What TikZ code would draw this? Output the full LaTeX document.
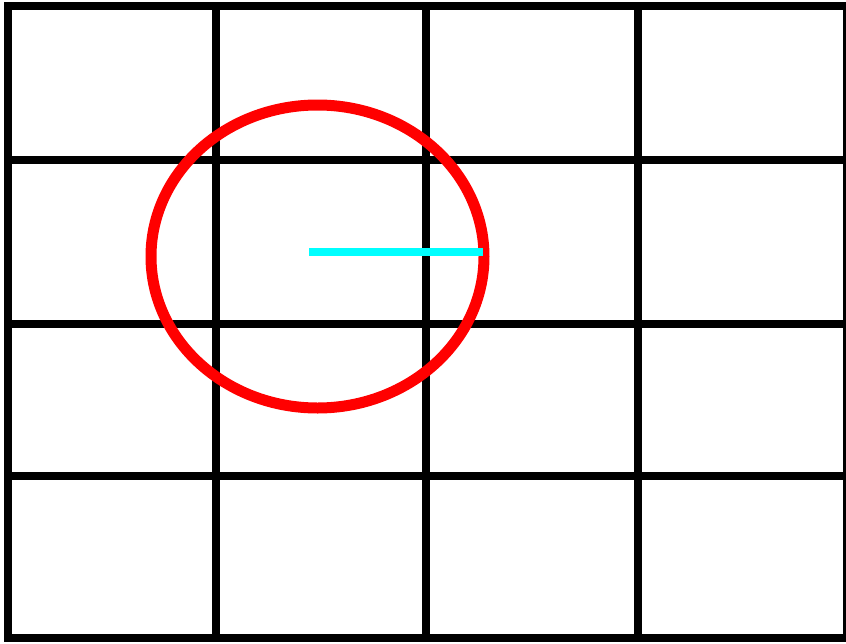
\documentclass[tikz,border=0pt]{standalone}
\usepackage{tikz}
\definecolor{ringred}{RGB}{255,0,0}
\definecolor{aquacyan}{RGB}{0,255,255}

\begin{document}
\begin{tikzpicture}[
        x=0.02cm, y=-0.02cm,
        gridline/.style={line width=0.16cm, black},
        ring/.style={line width=0.22cm, ringred},
        radius line/.style={line width=0.16cm, aquacyan}
    ]
        \useasboundingbox (0,0) rectangle (846,643);

        % grid
        \draw[gridline] (8,6) rectangle (847,638);
        \foreach \gx in {216,426,638}
            \draw[gridline] (\gx,6) -- (\gx,638);
        \foreach \gy in {160,324,476}
            \draw[gridline] (8,\gy) -- (847,\gy);

        % circle and radius
        \coordinate (centre) at (317.5,256.5);
        \draw[ring] (centre) ellipse [x radius=166.5, y radius=151.5];
        \coordinate (rstart) at (309,252);
        \coordinate (rend) at (483,252);
        \draw[radius line] (rstart) -- (rend);
    \end{tikzpicture}
\end{document}
